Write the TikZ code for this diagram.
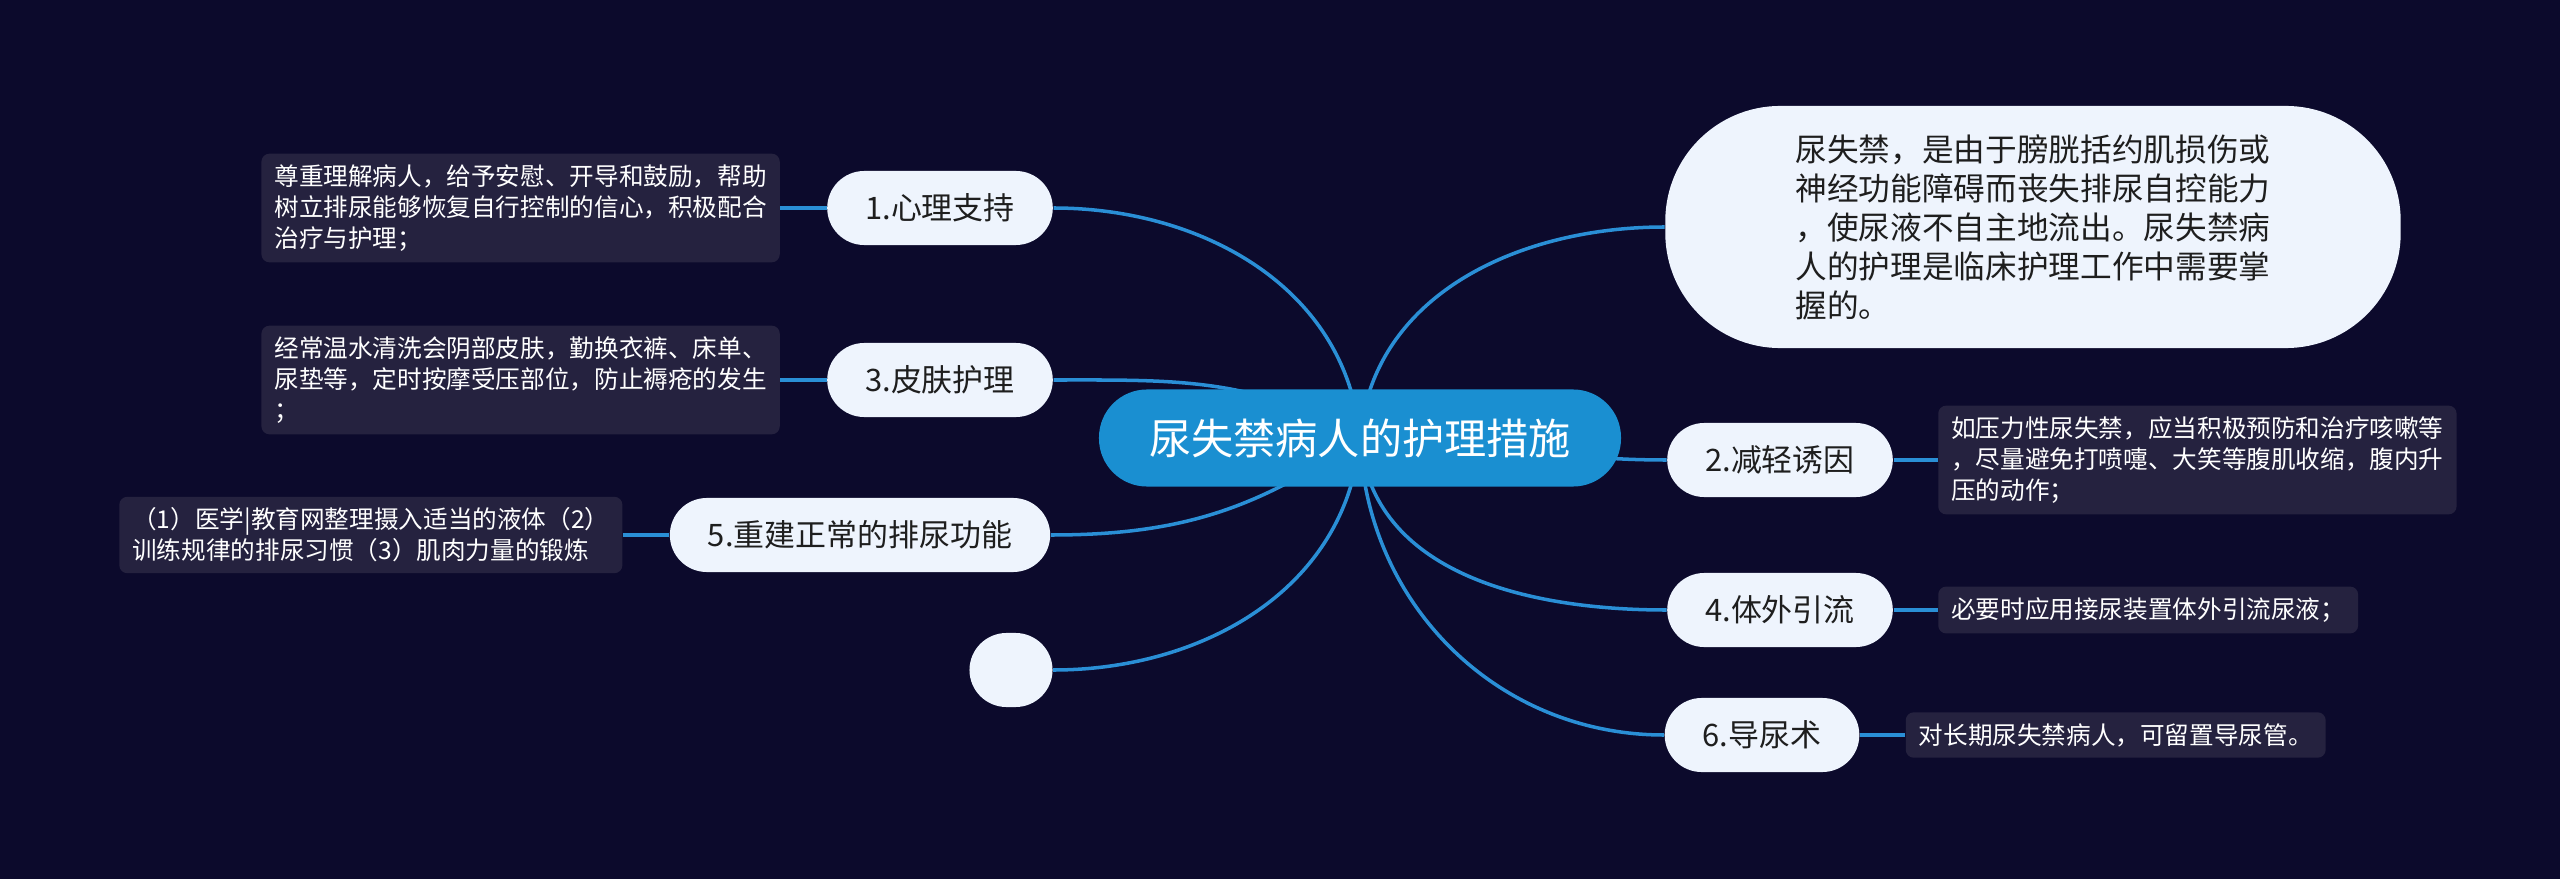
\documentclass[tikz,border=0pt]{standalone}
\usepackage{fontspec}
\usetikzlibrary{positioning,backgrounds}
\newfontfamily\cjk{Noto Sans CJK SC}
\definecolor{bgcol}{HTML}{0C0A2C}
\definecolor{rootcol}{HTML}{1A8FD1}
\definecolor{linkcol}{HTML}{2A8FD6}
\definecolor{branchcol}{HTML}{EEF4FD}
\definecolor{leafcol}{HTML}{25223F}
\definecolor{darktext}{HTML}{1E1E1E}

\tikzset{
  rootnode/.style={fill=rootcol,text=white,font=\cjk\fontsize{12}{14}\selectfont,
    rounded corners=0.48cm,minimum height=0.97cm,inner xsep=0.5cm},
  branch/.style={fill=branchcol,text=darktext,font=\cjk\fontsize{8.8}{10}\selectfont,
    rounded corners=0.37cm,minimum height=0.74cm,inner xsep=0.38cm},
  leaf/.style={fill=leafcol,text=white,font=\cjk\fontsize{7}{8.8}\selectfont,
    rounded corners=0.08cm,align=left,inner xsep=0.13cm,inner ysep=0.11cm},
  link/.style={linkcol,line width=1pt},
}

\begin{document}
\begin{tikzpicture}[x=0.01cm,y=-0.01cm]
% root and main branches
\node[rootnode] (root) at (1360,438) {尿失禁病人的护理措施};
\node[branch] (n1) at (940,208) {1.心理支持};
\node[branch] (n3) at (940,380) {3.皮肤护理};
\node[branch] (n5) at (860,535) {5.重建正常的排尿功能};
\node[branch,minimum width=0.83cm,inner xsep=0pt] (nx) at (1011,670) {};
\node[branch,rounded corners=1.15cm,minimum width=7.35cm,minimum height=2.42cm,
  align=left,font=\cjk\fontsize{9}{11.1}\selectfont] (intro) at (2033,227)
  {尿失禁，是由于膀胱括约肌损伤或\\神经功能障碍而丧失排尿自控能力\\，使尿液不自主地流出。尿失禁病\\人的护理是临床护理工作中需要掌\\握的。};
\node[branch] (n2) at (1780,460) {2.减轻诱因};
\node[branch] (n4) at (1780,610) {4.体外引流};
\node[branch] (n6) at (1762,735) {6.导尿术};
% details
\node[leaf,left=0.46cm of n1] (d1) {尊重理解病人，给予安慰、开导和鼓励，帮助\\树立排尿能够恢复自行控制的信心，积极配合\\治疗与护理；};
\node[leaf,left=0.46cm of n3] (d3) {经常温水清洗会阴部皮肤，勤换衣裤、床单、\\尿垫等，定时按摩受压部位，防止褥疮的发生\\；};
\node[leaf,left=0.46cm of n5] (d5) {（1）医学|教育网整理摄入适当的液体（2）\\训练规律的排尿习惯（3）肌肉力量的锻炼};
\node[leaf,right=0.44cm of n2] (d2) {如压力性尿失禁，应当积极预防和治疗咳嗽等\\，尽量避免打喷嚏、大笑等腹肌收缩，腹内升\\压的动作；};
\node[leaf,right=0.44cm of n4] (d4) {必要时应用接尿装置体外引流尿液；};
\node[leaf,right=0.45cm of n6] (d6) {对长期尿失禁病人，可留置导尿管。};
% backdrop and connectors
\begin{scope}[on background layer]
\fill[bgcol] (0,0) rectangle (2560,879);
\draw[link] (root.center) to[out=95,in=0] (n1.east);
\draw[link] (root.center) to[out=150,in=0] (n3.east);
\draw[link] (root.center) to[out=215,in=0] (n5.east);
\draw[link] (root.center) to[out=265,in=0] (nx.east);
\draw[link] (root.center) to[out=85,in=180] (intro.west);
\draw[link] (root.center) to[out=0,in=180] (n2.west);
\draw[link] (root.center) to[out=275,in=180] (n4.west);
\draw[link] (root.center) to[out=272,in=180] (n6.west);
\end{scope}
\foreach \a/\b in {n1/d1,n3/d3,n5/d5} \draw[link] (\a.west) -- (\b.east);
\foreach \a/\b in {n2/d2,n4/d4,n6/d6} \draw[link] (\a.east) -- (\b.west);
\end{tikzpicture}
\end{document}
